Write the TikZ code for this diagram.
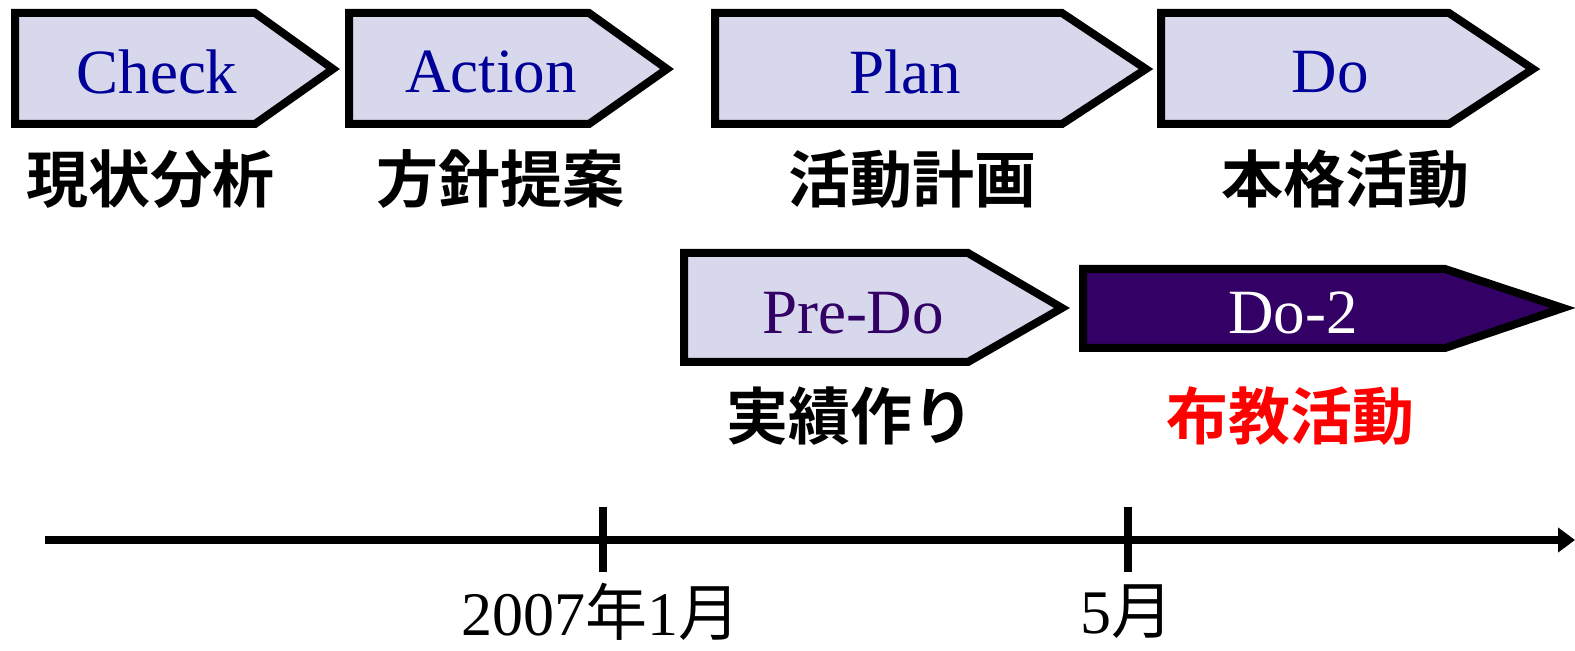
\documentclass[tikz,border=0pt]{standalone}
\usepackage{fontspec}
\setmainfont{Liberation Serif}
\newfontfamily\cjk{Noto Sans CJK JP}
\newfontfamily\cjkb{Noto Sans CJK JP Bold}
\usetikzlibrary{arrows.meta}
\definecolor{boxfill}{RGB}{216,216,236}
\definecolor{boxtext}{RGB}{0,0,153}
\definecolor{predo}{RGB}{51,0,102}
\definecolor{dotwo}{RGB}{51,0,102}
\tikzset{
  phase/.style={draw=black,line width=4pt,fill=boxfill,miter limit=20},
  phasedark/.style={draw=black,line width=4pt,fill=dotwo,miter limit=20},
  phasetext/.style={font=\fontsize{31.5}{36}\selectfont,text=boxtext,inner sep=0pt},
  jlabel/.style={font=\cjkb\fontsize{31}{36}\selectfont,inner sep=0pt},
  axisline/.style={line width=4pt},
  tick/.style={line width=4pt},
  datelabel/.style={font=\fontsize{31}{36}\selectfont,inner sep=0pt},
}
\begin{document}
\begin{tikzpicture}[x=0.5pt,y=-0.5pt]
\useasboundingbox (0,0) rectangle (1575,651);
% row 1
\draw[phase] (15,13) -- (255,13) -- (333,69) -- (255,124) -- (15,124) -- cycle;
\node[phasetext] (check) at (157,72) {Check};
\node[jlabel] (l1) at (150,179) {現状分析};
\draw[phase] (349,13) -- (589,13) -- (667,69) -- (589,124) -- (349,124) -- cycle;
\node[phasetext] (action) at (491,72) {Action};
\node[jlabel] (l2) at (500,179) {方針提案};
\draw[phase] (715,13) -- (1062,13) -- (1146,69) -- (1062,124) -- (715,124) -- cycle;
\node[phasetext] (plan) at (905,72) {Plan};
\node[jlabel] (l3) at (912,179) {活動計画};
\draw[phase] (1161,13) -- (1449,13) -- (1533,69) -- (1449,124) -- (1161,124) -- cycle;
\node[phasetext] (do) at (1330,72) {Do};
\node[jlabel] (l4) at (1345,179) {本格活動};
% row 2
\draw[phase] (684,253) -- (968,253) -- (1062,308) -- (968,362) -- (684,362) -- cycle;
\node[phasetext,text=predo] (predo) at (853,313) {Pre-Do};
\node[jlabel] (l5) at (850,416) {実績作り};
\draw[phasedark] (1083,269) -- (1445,269) -- (1563,308) -- (1445,348) -- (1083,348) -- cycle;
\node[phasetext,text=white] (do2) at (1293,313) {Do-2};
\node[jlabel,text=red] (l6) at (1290,416) {布教活動};
% axis
\coordinate (a0) at (45,540);
\coordinate (a1) at (1575,540);
\draw[axisline,-{Triangle[length=8.5pt,width=12pt]}] (a0) -- (a1);
\coordinate (t1a) at (603,507);
\coordinate (t1b) at (603,572);
\coordinate (t2a) at (1128,507);
\coordinate (t2b) at (1128,572);
\draw[tick] (t1a) -- (t1b);
\draw[tick] (t2a) -- (t2b);
\node[datelabel] (d1) at (601,612) {2007{\cjk 年}1{\cjk 月}};
\node[datelabel] (d2) at (1127,612) {5{\cjk 月}};
\end{tikzpicture}
\end{document}
